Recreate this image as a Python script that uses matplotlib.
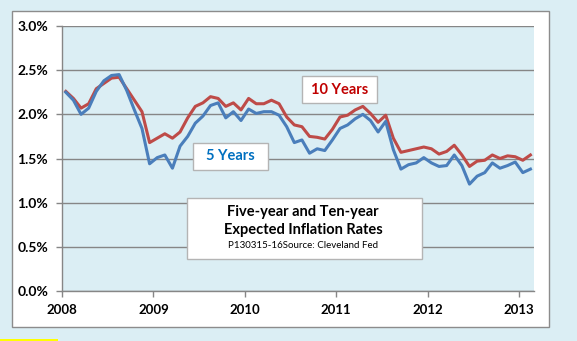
import matplotlib
matplotlib.use("Agg")
import matplotlib.pyplot as plt
from matplotlib.patches import Rectangle
import pandas as pd

# ---- data (monthly, Jan 2008 - Feb 2013) ----
months = pd.date_range("2008-01-01", "2013-02-01", freq="MS")
ten_year = [2.26, 2.18, 2.07, 2.12, 2.29, 2.35, 2.41, 2.42, 2.29, 2.16, 2.03, 1.68,
            1.73, 1.78, 1.73, 1.80, 1.96, 2.09, 2.13, 2.20, 2.18, 2.09, 2.13, 2.05,
            2.18, 2.12, 2.12, 2.16, 2.12, 1.97, 1.88, 1.86, 1.75, 1.74, 1.72, 1.83,
            1.97, 1.99, 2.05, 2.09, 2.01, 1.91, 1.99, 1.73, 1.57, 1.59, 1.61, 1.63,
            1.61, 1.55, 1.58, 1.65, 1.54, 1.41, 1.47, 1.48, 1.54, 1.50, 1.53, 1.52,
            1.48, 1.54]
five_year = [2.25, 2.16, 2.00, 2.07, 2.26, 2.38, 2.44, 2.45, 2.27, 2.05, 1.84, 1.44,
             1.51, 1.54, 1.39, 1.64, 1.75, 1.90, 1.98, 2.10, 2.13, 1.96, 2.03, 1.93,
             2.06, 2.01, 2.03, 2.03, 1.99, 1.86, 1.68, 1.71, 1.56, 1.61, 1.59, 1.71,
             1.84, 1.88, 1.95, 2.00, 1.93, 1.80, 1.92, 1.60, 1.38, 1.43, 1.45, 1.51,
             1.45, 1.41, 1.42, 1.54, 1.42, 1.21, 1.30, 1.34, 1.45, 1.39, 1.42, 1.46,
             1.34, 1.38]
year_ticks = [2008, 2009, 2010, 2011, 2012, 2013]
y_ticks = [0.0, 0.5, 1.0, 1.5, 2.0, 2.5, 3.0]
title_lines = ["Five-year and Ten-year", "Expected Inflation Rates"]
source_text = "P130315-16Source: Cleveland Fed"

x = [d.year + (d.month - 0.5) / 12 for d in months]

W, H = 577, 341
BG = "#DBEEF4"
BLUE = "#4A7EBB"
RED = "#BE4B48"
GRID = "#868686"
FONT = ["Lato", "DejaVu Sans"]
plt.rcParams["font.family"] = FONT

fig = plt.figure(figsize=(W / 100, H / 100), dpi=100)
fig.patch.set_facecolor(BG)

def fx(px):
    return px / W

def fy(py):
    return 1 - py / H

# white chart area
fig.patches.append(Rectangle((fx(12), fy(327)), fx(549) - fx(12), fy(11) - fy(327),
                             transform=fig.transFigure, facecolor="white",
                             edgecolor="#8C8C8C", linewidth=1.0, zorder=-5))
# small yellow artifact bottom-left
fig.patches.append(Rectangle((0, 0), fx(58), 2 / H, transform=fig.transFigure,
                             facecolor="#FFFF00", edgecolor="none", zorder=-5))

ax = fig.add_axes([fx(62), fy(291), fx(534) - fx(62), fy(26) - fy(291)])
ax.set_zorder(1)
ax.set_facecolor(BG)
ax.plot(x, ten_year, color=RED, lw=2.2, zorder=3, solid_joinstyle="round")
ax.plot(x, five_year, color=BLUE, lw=2.2, zorder=3, solid_joinstyle="round")

ax.set_xlim(2008, 2008 + (534 - 62) / 91.4)
ax.set_ylim(0, 3.0)
ax.set_xticks(year_ticks)
ax.set_xticklabels([str(t) for t in year_ticks], fontweight="bold", fontsize=9.5)
ax.set_yticks(y_ticks)
ax.set_yticklabels([f"{v:.1f}%" for v in y_ticks], fontweight="bold", fontsize=10)
ax.yaxis.grid(True, color=GRID, lw=1.0)
ax.set_axisbelow(True)
for s in ["top", "right"]:
    ax.spines[s].set_visible(False)
for s in ["left", "bottom"]:
    ax.spines[s].set_color(GRID)
    ax.spines[s].set_linewidth(1.0)
ax.tick_params(axis="both", color=GRID, length=4, width=1.0, direction="out")
ax.tick_params(axis="y", pad=6)
ax.tick_params(axis="x", pad=5)

# label boxes (drawn above the axes)
def box(x0, y0, x1, y1):
    fig.patches.append(Rectangle((fx(x0), fy(y1)), fx(x1) - fx(x0), fy(y0) - fy(y1),
                                 transform=fig.transFigure, facecolor="white",
                                 edgecolor="#B4B4B4", linewidth=1.0, zorder=5))

box(302, 76, 377, 103)
fig.text(fx(340), fy(89.5), "10 Years", color="#C00000", fontweight="bold",
         fontsize=10.5, ha="center", va="center", zorder=6)
box(193, 143, 268, 170)
fig.text(fx(230.5), fy(156.5), "5 Years", color="#0070C0", fontweight="bold",
         fontsize=10.5, ha="center", va="center", zorder=6)

box(187, 198, 422, 259)
fig.text(fx(303), fy(212), title_lines[0], fontweight="bold", fontsize=10.5,
         ha="center", va="center", zorder=6)
fig.text(fx(303), fy(230), title_lines[1], fontweight="bold", fontsize=10.5,
         ha="center", va="center", zorder=6)
fig.text(fx(303), fy(245.5), source_text, fontsize=7, ha="center", va="center", zorder=6)

fig.savefig("out.png", dpi=100, facecolor=fig.get_facecolor())
